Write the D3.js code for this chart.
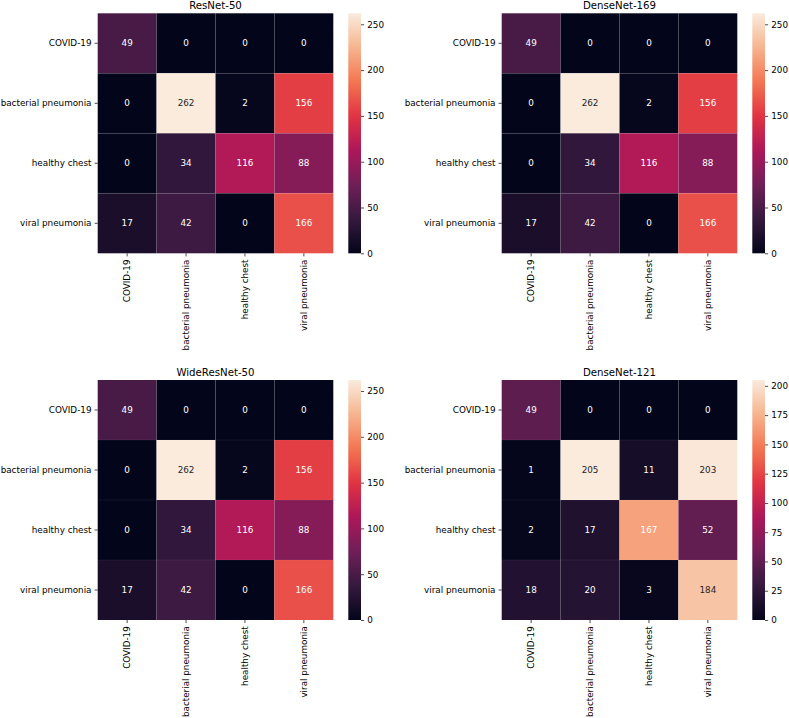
<!DOCTYPE html>
<html>
<head>
<meta charset="utf-8">
<script src="https://cdn.jsdelivr.net/npm/d3@7"></script>
<style>
  html, body { margin: 0; padding: 0; background: #fff; }
  svg { display: block; }
  text { font-family: "DejaVu Sans", sans-serif; }
</style>
</head>
<body>
<script>
// ---------- data ----------
const classes = ["COVID-19", "bacterial pneumonia", "healthy chest", "viral pneumonia"];
const titles = ["ResNet-50", "DenseNet-169", "WideResNet-50", "DenseNet-121"];
const resnet50 = [[49, 0, 0, 0], [0, 262, 2, 156], [0, 34, 116, 88], [17, 42, 0, 166]];
const densenet169 = [[49, 0, 0, 0], [0, 262, 2, 156], [0, 34, 116, 88], [17, 42, 0, 166]];
const wideresnet50 = [[49, 0, 0, 0], [0, 262, 2, 156], [0, 34, 116, 88], [17, 42, 0, 166]];
const densenet121 = [[49, 0, 0, 0], [1, 205, 11, 203], [2, 17, 167, 52], [18, 20, 3, 184]];
const ticks262 = [0, 50, 100, 150, 200, 250];
const ticks205 = [0, 25, 50, 75, 100, 125, 150, 175, 200];

const matrices = [resnet50, densenet169, wideresnet50, densenet121];
const colorbarTicks = [ticks262, ticks262, ticks262, ticks205];

// ---------- layout ----------
const W = 789, H = 718;
const svg = d3.select("body").append("svg").attr("width", W).attr("height", H);

const rocketStops = ["#03051a", "#35193e", "#701f57", "#ad1759", "#e13342", "#f37651", "#f6b48f", "#faebdd"];
const rocketDomain = rocketStops.map((d, i) => i / (rocketStops.length - 1));
const rocket = d3.scaleLinear().domain(rocketDomain).range(rocketStops).clamp(true);

const panelX = [97.7, 501.7];
const panelY = [13.3, 380];
const hmW = 235.6, hmH = 240;
const cbOff = 250.6, cbW = 12.7;
const fs = 8.8, titleFs = 10.2;
const tickLen = 3.1, pad = 3.1;

const defs = svg.append("defs");

matrices.forEach((mat, p) => {
  const x0 = panelX[p % 2], y0 = panelY[Math.floor(p / 2)];
  const g = svg.append("g").attr("transform", `translate(${x0},${y0})`);
  const flat = mat.flat();
  const vmin = d3.min(flat), vmax = d3.max(flat);
  const norm = d3.scaleLinear().domain([vmin, vmax]).range([0, 1]);

  const x = d3.scaleBand().domain(classes).range([0, hmW]);
  const y = d3.scaleBand().domain(classes).range([0, hmH]);

  const cells = [];
  mat.forEach((row, i) => row.forEach((v, j) => cells.push({ r: classes[i], c: classes[j], v })));

  g.selectAll("rect.cell").data(cells).join("rect")
    .attr("class", "cell")
    .attr("x", d => x(d.c)).attr("y", d => y(d.r))
    .attr("width", x.bandwidth()).attr("height", y.bandwidth())
    .attr("fill", d => rocket(norm(d.v)));

  // faint seams between cells
  g.selectAll("line.seamv").data(classes.slice(1)).join("line")
    .attr("x1", d => x(d)).attr("x2", d => x(d)).attr("y1", 0).attr("y2", hmH)
    .attr("stroke", "#fff").attr("stroke-opacity", 0.08).attr("stroke-width", 0.8);
  g.selectAll("line.seamh").data(classes.slice(1)).join("line")
    .attr("y1", d => y(d)).attr("y2", d => y(d)).attr("x1", 0).attr("x2", hmW)
    .attr("stroke", "#fff").attr("stroke-opacity", 0.08).attr("stroke-width", 0.8);

  g.selectAll("text.ann").data(cells).join("text")
    .attr("class", "ann")
    .attr("x", d => x(d.c) + x.bandwidth() / 2)
    .attr("y", d => y(d.r) + y.bandwidth() / 2)
    .attr("text-anchor", "middle").attr("dominant-baseline", "central")
    .attr("font-size", fs)
    .attr("fill", d => norm(d.v) > 0.85 ? "#262626" : "#ffffff")
    .text(d => d.v);

  // y axis
  const yAxis = d3.axisLeft(y).tickSize(tickLen).tickPadding(pad);
  const ya = g.append("g").call(yAxis);
  ya.select(".domain").remove();
  ya.selectAll("text").attr("font-size", fs).attr("fill", "#000").attr("font-family", "DejaVu Sans, sans-serif");
  ya.selectAll("line").attr("stroke", "#000").attr("stroke-width", 0.7);

  // x axis
  const xAxis = d3.axisBottom(x).tickSize(tickLen).tickPadding(pad);
  const xa = g.append("g").attr("transform", `translate(0,${hmH})`).call(xAxis);
  xa.select(".domain").remove();
  xa.selectAll("line").attr("stroke", "#000").attr("stroke-width", 0.7);
  xa.selectAll("text")
    .attr("font-size", fs).attr("fill", "#000").attr("font-family", "DejaVu Sans, sans-serif")
    .attr("transform", `translate(0,${tickLen + pad}) rotate(-90)`)
    .attr("x", 0).attr("y", 0).attr("dy", null)
    .attr("text-anchor", "end").attr("dominant-baseline", "central");

  // title
  g.append("text")
    .attr("x", hmW / 2).attr("y", -4.2)
    .attr("text-anchor", "middle").attr("font-size", titleFs).attr("fill", "#000")
    .text(titles[p]);

  // colorbar
  const gid = "cbgrad" + p;
  const grad = defs.append("linearGradient").attr("id", gid)
    .attr("x1", 0).attr("y1", 1).attr("x2", 0).attr("y2", 0);
  d3.range(0, 1.0001, 0.02).forEach(t => {
    grad.append("stop").attr("offset", t).attr("stop-color", rocket(t));
  });
  const cs = d3.scaleLinear().domain([vmin, vmax]).range([hmH, 0]);
  const cb = g.append("g").attr("transform", `translate(${cbOff},0)`);
  cb.append("rect").attr("x", 0).attr("y", 0).attr("width", cbW).attr("height", hmH)
    .attr("fill", `url(#${gid})`);
  const cAxis = d3.axisRight(cs).tickValues(colorbarTicks[p]).tickSize(tickLen).tickPadding(pad);
  const ca = cb.append("g").attr("transform", `translate(${cbW},0)`).call(cAxis);
  ca.select(".domain").remove();
  ca.selectAll("line").attr("stroke", "#000").attr("stroke-width", 0.7);
  ca.selectAll("text").attr("font-size", fs).attr("fill", "#000").attr("font-family", "DejaVu Sans, sans-serif");
});
</script>
</body>
</html>
